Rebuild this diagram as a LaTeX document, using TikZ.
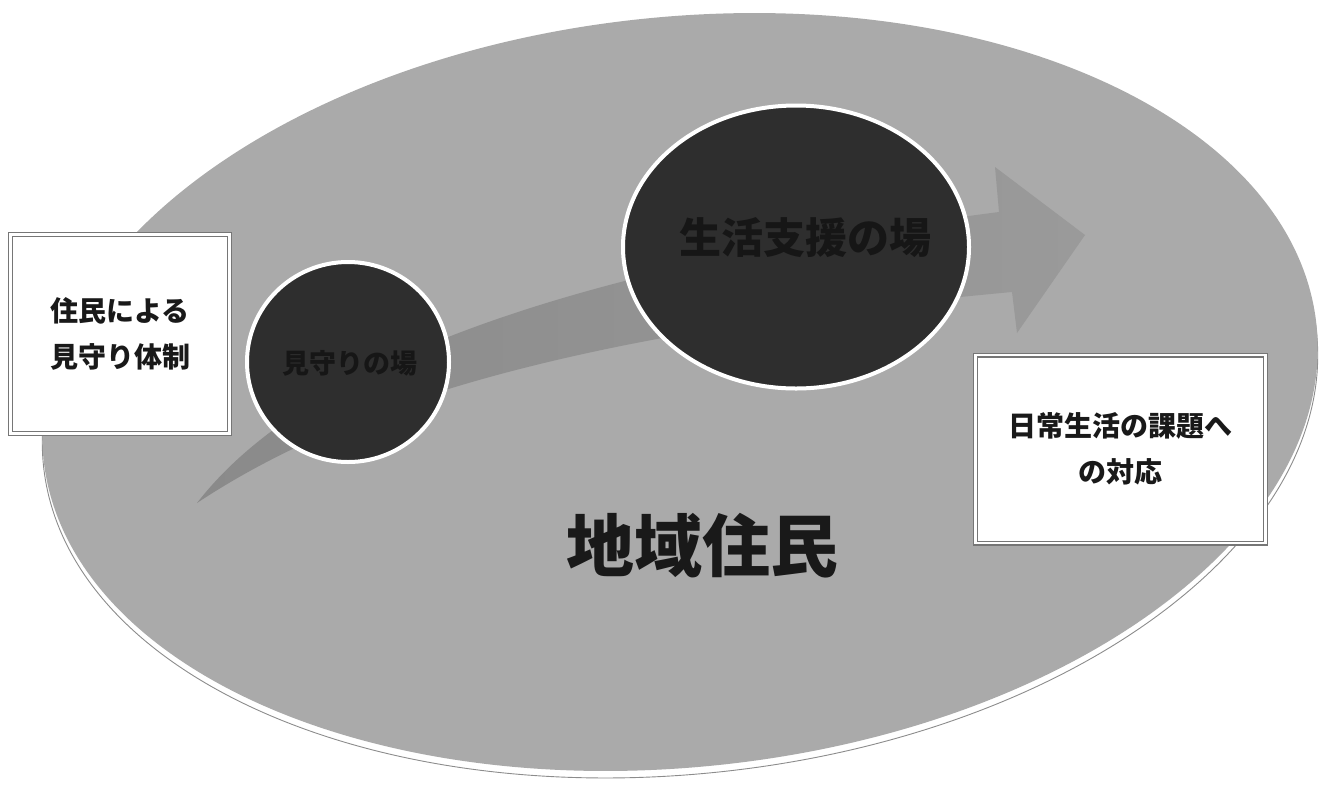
\documentclass[tikz,border=0pt]{standalone}
\usepackage{fontspec}
\newfontfamily\jp{Noto Sans CJK JP}
\usetikzlibrary{shapes.geometric}
\definecolor{ellgray}{RGB}{170,170,170}
\definecolor{shadowline}{RGB}{140,140,140}
\definecolor{arrowlight}{RGB}{154,154,154}
\definecolor{arrowdark}{RGB}{138,138,138}
\definecolor{circfill}{RGB}{46,46,46}
\definecolor{circtext}{RGB}{22,22,22}
\definecolor{boxline}{RGB}{118,118,118}
\definecolor{maintext}{RGB}{25,25,25}
\tikzset{
  bigoval/.style={ellipse, inner sep=0pt, minimum width=1280pt, minimum height=750pt, rotate=6},
  darkcirc/.style={ellipse, inner sep=0pt, fill=circfill, draw=white, line width=4pt, text=circtext},
  framebox/.style={rectangle, inner sep=0pt, fill=white, draw=boxline, double=white,
    double distance=2.4pt, line width=1.3pt, align=center, text=maintext,
    font=\jp\bfseries\fontsize{28}{46}\selectfont},
}
\begin{document}
\begin{tikzpicture}[x=1pt,y=-1pt]
\useasboundingbox (0,0) rectangle (1332,788);
% region ellipse with lower shadow rim
\node[bigoval, fill=white, draw=shadowline, line width=0.9pt] (shadow) at (680,399) {};
\node[bigoval, fill=ellgray] (region) at (680,392) {};
% tapered arrow
\path[left color=arrowdark, right color=arrowlight, shading angle=90]
  (197,503) .. controls (300,370) and (550,270) .. (999,212)
  -- (995,167) -- (1085,235) -- (1017,333) -- (1012,292)
  .. controls (600,330) and (360,395) .. (197,503) -- cycle;
% circles
\node[darkcirc, minimum width=202pt, minimum height=200pt] (small) at (348,362) {};
\node[font=\jp\bfseries\fontsize{27}{27}\selectfont, text=circtext] (smalltext) at (350,363) {見守りの場};
\node[darkcirc, minimum width=346pt, minimum height=283pt] (big) at (796,247) {};
\node[font=\jp\bfseries\fontsize{42}{42}\selectfont, text=circtext] (bigtext) at (805,238) {生活支援の場};
% main label
\node[font=\jp\bfseries\fontsize{68}{68}\selectfont, text=maintext] (title) at (702,546) {地域住民};
% boxes
\node[framebox, minimum width=219pt, minimum height=199pt] (leftbox) at (120,334) {住民による\\見守り体制};
\node[framebox, minimum width=290pt, minimum height=188pt] (rightbox) at (1120.5,449) {日常生活の課題へ\\の対応};
\end{tikzpicture}
\end{document}
